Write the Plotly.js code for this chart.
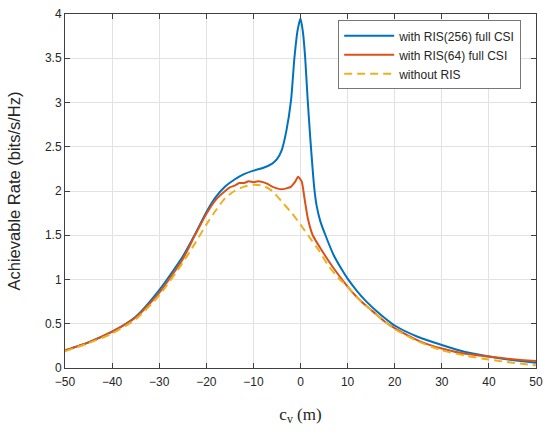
<!DOCTYPE html>
<html>
<head>
<meta charset="utf-8">
<script src="https://cdn.plot.ly/plotly-3.0.1.min.js"></script>
<style>
html,body{margin:0;padding:0;background:#fff;}
#chart{width:550px;height:434px;}
</style>
</head>
<body>
<div id="chart"></div>
<script>
// Series 1: with RIS(256) full CSI
const x256 = [-50,-45,-40,-35,-30,-25,-22.5,-20,-18,-16,-14,-12,-10,-8,-6,-5,-4,-3,-2,-1.3,-0.6,0,0.5,1,1.5,2.1,2.95,3.4,4.2,5.3,7,8.8,10,12,14,16,18,20,25,30,35,40,45,50];
const y256 = [0.20,0.29,0.41,0.58,0.88,1.26,1.50,1.76,1.93,2.05,2.13,2.19,2.23,2.26,2.31,2.36,2.46,2.68,3.03,3.50,3.82,3.95,3.80,3.50,3.05,2.58,2.02,1.84,1.66,1.50,1.28,1.11,1.01,0.87,0.75,0.65,0.56,0.48,0.35,0.26,0.18,0.13,0.09,0.06];

// Series 2: with RIS(64) full CSI
const x64 = [-50,-45,-40,-35,-30,-25,-22.5,-20,-18,-16,-15,-14,-13,-12,-11,-10,-9,-8,-7,-6,-5,-4,-3,-2,-1.2,-0.5,0,0.3,0.9,1.6,2.6,4.5,7,10,12,14,16,18,20,25,30,35,40,45,50];
const y64 = [0.20,0.29,0.41,0.57,0.85,1.23,1.49,1.74,1.90,2.00,2.04,2.06,2.09,2.09,2.11,2.10,2.11,2.10,2.08,2.05,2.03,2.02,2.03,2.05,2.10,2.16,2.13,2.10,1.90,1.68,1.50,1.33,1.13,0.92,0.80,0.70,0.61,0.52,0.45,0.31,0.22,0.16,0.13,0.10,0.08];

// Series 3: without RIS
const xNo = [-50,-45,-40,-35,-30,-25,-22.5,-20,-18,-16,-14,-12,-10,-8,-6,-4,-2,0,2,4,6,8,10,12,14,16,18,20,25,30,35,40,45,50];
const yNo = [0.19,0.28,0.39,0.55,0.82,1.19,1.40,1.62,1.78,1.92,2.00,2.05,2.07,2.06,2.00,1.88,1.76,1.62,1.47,1.32,1.15,1.02,0.92,0.80,0.70,0.61,0.52,0.44,0.30,0.20,0.14,0.095,0.06,0.03];

const seriesNames = ['with RIS(256) full CSI','with RIS(64) full CSI','without RIS'];
const xTicks = [-50,-40,-30,-20,-10,0,10,20,30,40,50];
const yTicks = [0,0.5,1,1.5,2,2.5,3,3.5,4];
const yTickLabels = ['0','0.5','1','1.5','2','2.5','3','3.5','4'];

const font = 'Liberation Sans, Arial, sans-serif';

const traces = [
  {x:x256, y:y256, name:seriesNames[0], mode:'lines', line:{color:'#0072BD', width:2, shape:'spline', smoothing:0.6}},
  {x:x64, y:y64, name:seriesNames[1], mode:'lines', line:{color:'#D95319', width:2, shape:'spline', smoothing:0.6}},
  {x:xNo, y:yNo, name:seriesNames[2], mode:'lines', line:{color:'#EDB120', width:2, dash:'8px,5px', shape:'spline', smoothing:0.6}}
];

const axisCommon = {
  showline:true, linecolor:'#404040', linewidth:1, mirror:'ticks',
  ticks:'inside', ticklen:5, tickcolor:'#404040', tickwidth:1,
  showgrid:true, gridcolor:'#e2e2e2', gridwidth:1, zeroline:false,
  tickfont:{family:font, size:12, color:'#262626'}
};

const layout = {
  width:550, height:434,
  margin:{l:65, r:14, t:14, b:66},
  paper_bgcolor:'#fff', plot_bgcolor:'#fff',
  showlegend:true,
  xaxis:Object.assign({}, axisCommon, {
    range:[-50,50], tickvals:xTicks, ticklabelstandoff:3,
    title:{text:'c<sub>v</sub> (m)', font:{family:'Liberation Serif, Times New Roman, serif', size:17, color:'#262626'}, standoff:19}
  }),
  yaxis:Object.assign({}, axisCommon, {
    range:[0,4], tickvals:yTicks, ticktext:yTickLabels,
    title:{text:'Achievable Rate (bits/s/Hz)', font:{family:font, size:16.5, color:'#262626'}, standoff:20}
  }),
  legend:{
    x:0.58, y:0.982, xanchor:'left', yanchor:'top',
    bgcolor:'#fff', bordercolor:'#777', borderwidth:1,
    font:{family:font, size:12, color:'#262626'},
    itemwidth:50, tracegroupgap:0
  }
};

Plotly.newPlot('chart', traces, layout, {displayModeBar:false, staticPlot:true});
</script>
</body>
</html>
